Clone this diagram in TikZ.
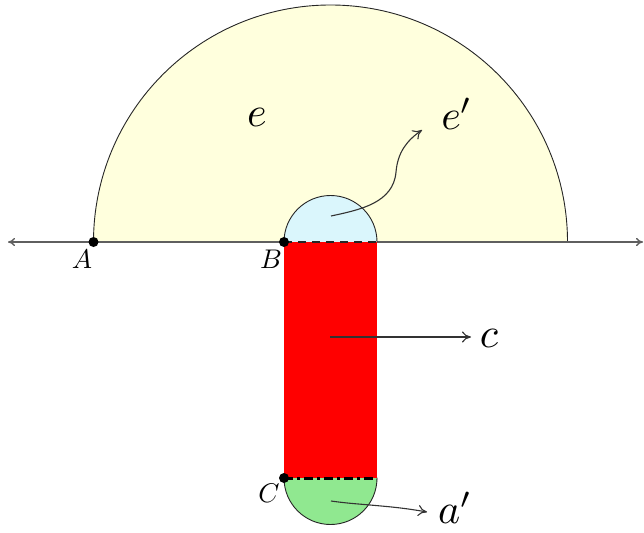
\documentclass[tikz,border=0pt]{standalone}
\usetikzlibrary{arrows.meta}
\definecolor{semiyellow}{RGB}{255,255,221}
\definecolor{semiblue}{RGB}{218,246,252}
\definecolor{semigreen}{RGB}{144,232,144}
\definecolor{axisgray}{RGB}{95,95,95}
\tikzset{
  outline/.style={draw=black!85,line width=0.9pt},
  dotpt/.style={circle,fill=black,inner sep=0pt,minimum size=10pt},
  ptlabel/.style={scale=2.7,inner sep=0pt},
  biglabel/.style={scale=4.2,inner sep=0pt},
  arr/.style={draw=black!80,line width=1.1pt,-{To[length=9pt,width=11pt]}},
}
\begin{document}
\begin{tikzpicture}[x=1pt,y=-1pt]
\useasboundingbox (0,0) rectangle (644,532);
% coordinates
\coordinate (O) at (330.5,242);
\coordinate (A) at (93.5,242);
\coordinate (B) at (284,242);
\coordinate (Bright) at (377,242);
\coordinate (C) at (284,478);
\coordinate (Cright) at (377,478);
\coordinate (axL) at (8,242);
\coordinate (axR) at (643,242);
% big semicircle
\fill[semiyellow] (A) arc[start angle=180,end angle=360,radius=237] -- cycle;
\draw[outline] (A) arc[start angle=180,end angle=360,radius=237];
% axis
\draw[axisgray,line width=1.4pt,{To[length=7pt,width=8pt]}-{To[length=7pt,width=8pt]}] (axL) -- (axR);
% small blue semicircle
\fill[semiblue] (B) arc[start angle=180,end angle=360,radius=46.5] -- cycle;
\draw[outline] (B) arc[start angle=180,end angle=360,radius=46.5];
% red rectangle
\fill[red] (B) rectangle (Cright);
% green semicircle
\fill[semigreen] (C) arc[start angle=180,end angle=0,radius=46.5] -- cycle;
\draw[outline] (C) arc[start angle=180,end angle=0,radius=46.5];
% dashed lines
\draw[black!85,line width=2.6pt,dash pattern=on 8pt off 6pt] (B) -- (Bright);
\draw[black,line width=3pt,dash pattern=on 9pt off 4pt on 3pt off 4pt] (C) -- (Cright);
% points
\node[dotpt] (Ad) at (A) {};
\node[dotpt] (Bd) at (B) {};
\node[dotpt] (Cd) at (C) {};
\node[ptlabel] at (82,259) {$A$};
\node[ptlabel] at (271,259) {$B$};
\node[ptlabel] at (269,493) {$C$};
% labels
\node[biglabel] (le) at (257,117) {$e$};
\node[biglabel] (lep) at (457,114) {$e'$};
\node[biglabel] (lc) at (489,338) {$c$};
\node[biglabel] (la) at (455,508) {$a'$};
% arrows
\coordinate (es) at (331,216);
\coordinate (ee) at (422,130);
\draw[arr] (es) to[out=12,in=-95] (396,172) to[out=85,in=215] (ee);
\coordinate (cs) at (330,337);
\coordinate (ce) at (471,337);
\draw[arr] (cs) -- (ce);
\coordinate (as) at (331,501);
\coordinate (ae) at (427,512);
\draw[arr] (as) to[out=-8,in=175] (370,505) to[out=-5,in=170] (ae);
\end{tikzpicture}
\end{document}
